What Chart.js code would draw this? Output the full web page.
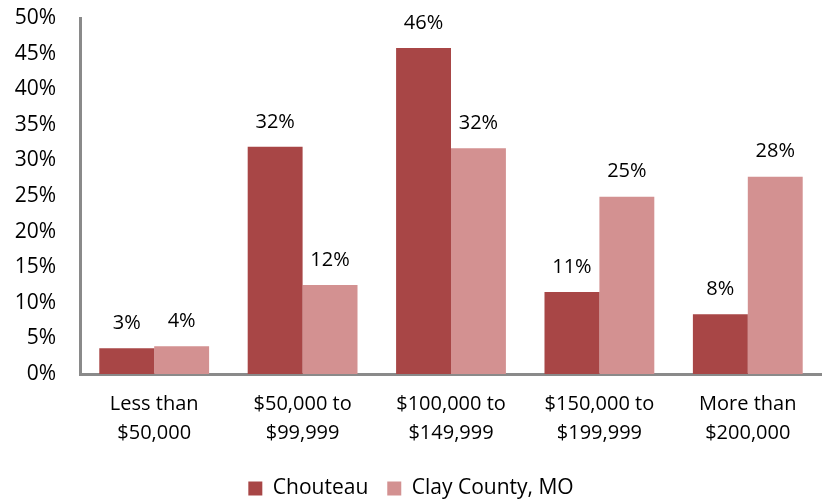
<!DOCTYPE html>
<html>
<head>
<meta charset="utf-8">
<script src="https://cdn.jsdelivr.net/npm/chart.js@4"></script>
<style>
  html, body { margin: 0; padding: 0; background: #fff; }
  #wrap { width: 822px; height: 502px; }
</style>
</head>
<body>
<div id="wrap"><canvas id="grafico" width="822" height="502"></canvas></div>
<script>
// Datos del gráfico
const categorias = [['Less than', '$50,000'], ['$50,000 to', '$99,999'], ['$100,000 to', '$149,999'], ['$150,000 to', '$199,999'], ['More than', '$200,000']];
const chouteau = [3.6, 31.9, 45.8, 11.5, 8.4];
const clayCounty = [3.9, 12.5, 31.7, 24.9, 27.7];
const etiquetasChouteau = ['3%', '32%', '46%', '11%', '8%'];
const etiquetasClay = ['4%', '12%', '32%', '25%', '28%'];

const fuente = "'Open Sans', 'Liberation Sans', sans-serif";

// Plugin sencillo para escribir el valor encima de cada barra
const etiquetasBarras = {
    id: 'etiquetasBarras',
    afterDatasetsDraw(chart) {
        const ctx = chart.ctx;
        ctx.save();
        ctx.font = '20px ' + fuente;
        ctx.fillStyle = '#000';
        ctx.textAlign = 'center';
        ctx.textBaseline = 'middle';
        const textos = [etiquetasChouteau, etiquetasClay];
        chart.data.datasets.forEach((ds, i) => {
            chart.getDatasetMeta(i).data.forEach((bar, j) => {
                ctx.fillText(textos[i][j], bar.x, bar.y - 25);
            });
        });
        ctx.restore();
    }
};

const ctx = document.getElementById('grafico').getContext('2d');
new Chart(ctx, {
    type: 'bar',
    data: {
        labels: categorias,
        datasets: [{
            label: 'Chouteau',
            data: chouteau,
            backgroundColor: '#A84646'
        }, {
            label: 'Clay County, MO',
            data: clayCounty,
            backgroundColor: '#D39191'
        }]
    },
    options: {
        responsive: false,
        animation: false,
        layout: { padding: { top: 0, left: 0, right: 0, bottom: -7 } },
        datasets: {
            bar: { categoryPercentage: 0.74, barPercentage: 1.0 }
        },
        plugins: {
            legend: {
                position: 'bottom',
                labels: {
                    font: { size: 21, family: fuente },
                    color: '#000',
                    boxWidth: 14,
                    boxHeight: 14,
                    padding: 19
                }
            },
            tooltip: { enabled: false }
        },
        scales: {
            x: {
                grid: { display: false, drawTicks: false },
                border: { display: true, color: '#8a8a8a', width: 3 },
                ticks: {
                    color: '#000',
                    font: { size: 20, family: fuente, lineHeight: 1.45 },
                    padding: 16,
                    maxRotation: 0
                },
                afterFit(scale) { scale.height = 85; }
            },
            y: {
                min: 0,
                max: 50,
                grid: { display: false, drawTicks: false },
                border: { display: true, color: '#8a8a8a', width: 3 },
                ticks: {
                    stepSize: 5,
                    color: '#000',
                    font: { size: 21, family: fuente },
                    padding: 24,
                    callback: v => v + '%'
                },
                afterFit(scale) {
                    scale.width = 80;
                    scale.paddingTop = 18;
                    scale.paddingBottom = 0;
                }
            }
        }
    },
    plugins: [etiquetasBarras]
});
</script>
</body>
</html>
